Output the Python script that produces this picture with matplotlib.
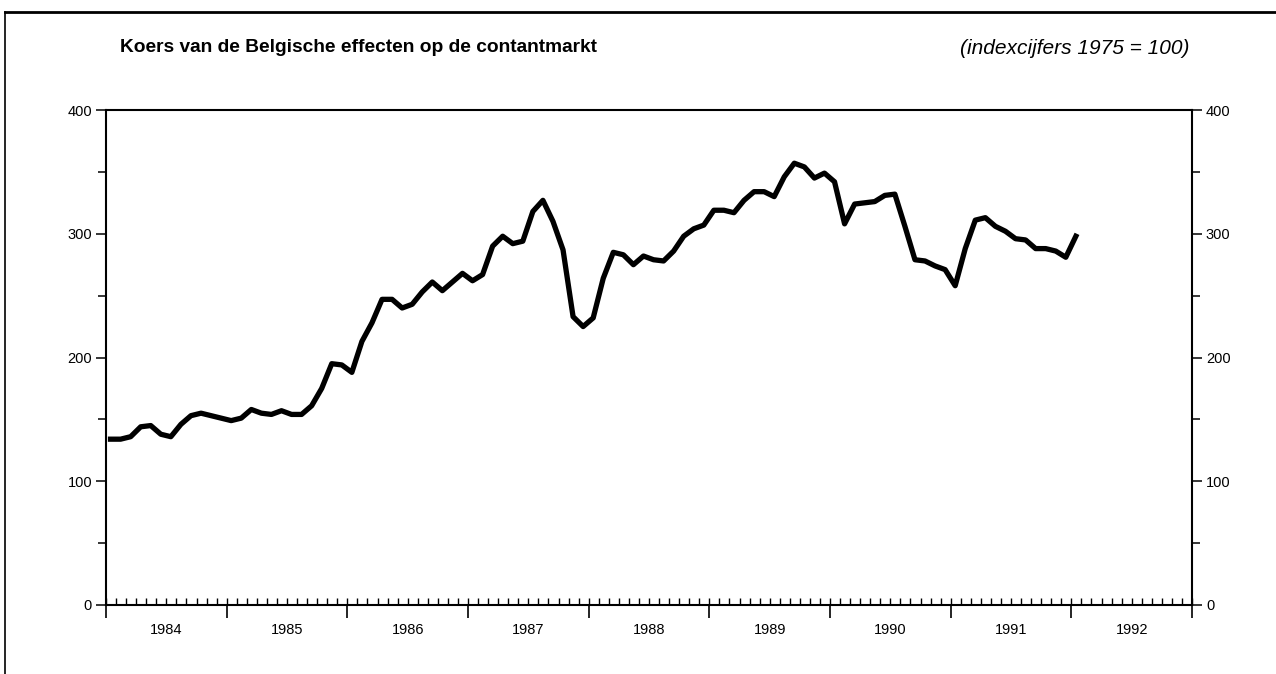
import numpy as np
import matplotlib
matplotlib.use('Agg')
import matplotlib.pyplot as plt
from matplotlib.lines import Line2D
from matplotlib.ticker import MultipleLocator

plt.rcParams['font.family'] = ['Liberation Sans', 'DejaVu Sans']

# jaarlabels onder de as
years = [1984, 1985, 1986, 1987, 1988, 1989, 1990, 1991, 1992]

koers_1984 = [134, 134, 136, 144, 145, 138, 136, 146, 153, 155, 153, 151]
koers_1985 = [149, 151, 158, 155, 154, 157, 154, 154, 161, 175, 195, 194]
koers_1986 = [188, 213, 228, 247, 247, 240, 243, 253, 261, 254, 261, 268]
koers_1987 = [262, 267, 290, 298, 292, 294, 318, 327, 310, 287, 233, 225]
koers_1988 = [232, 264, 285, 283, 275, 282, 279, 278, 286, 298, 304, 307]
koers_1989 = [319, 319, 317, 327, 334, 334, 330, 346, 357, 354, 345, 349]
koers_1990 = [342, 308, 324, 325, 326, 331, 332, 306, 279, 278, 274, 271]
koers_1991 = [258, 288, 311, 313, 306, 302, 296, 295, 288, 288, 286, 281]
koers_1992 = [298]

koers = (koers_1984 + koers_1985 + koers_1986 + koers_1987 + koers_1988
         + koers_1989 + koers_1990 + koers_1991 + koers_1992)
x = np.arange(len(koers)) + 0.45  # midden van de maand

W, H = 1276, 674
fig = plt.figure(figsize=(W / 100, H / 100), dpi=100)
ax = fig.add_axes([106 / W, 1 - 605 / H, (1192 - 106) / W, (605 - 110) / H])

ax.plot(x, koers, color='black', lw=3.8)

ax.set_xlim(0, 12 * len(years))
ax.set_ylim(0, 400)

# y-as links en rechts
ax.set_yticks([0, 100, 200, 300, 400])
ax.yaxis.set_minor_locator(MultipleLocator(50))
ax.tick_params(axis='y', which='both', direction='out', left=True, right=True,
               labelleft=True, labelright=True, labelsize=10.5, width=1.1)
ax.tick_params(axis='y', which='major', length=7, pad=3)
ax.tick_params(axis='y', which='minor', length=6)

# x-as: jaargrenzen naar buiten, maanden naar binnen
ax.set_xticks(np.arange(0, 12 * len(years) + 1, 12))
ax.set_xticklabels([])
ax.xaxis.set_minor_locator(MultipleLocator(1))
ax.xaxis.remove_overlapping_locs = False
ax.tick_params(axis='x', which='major', direction='out', length=9, width=1.2)
ax.tick_params(axis='x', which='minor', direction='in', length=5, width=1.0)
for k, yr in enumerate(years):
    ax.text(6 + 12 * k, -0.037, str(yr), transform=ax.get_xaxis_transform(),
            ha='center', va='top', fontsize=10.5)

for s in ax.spines.values():
    s.set_linewidth(1.5)

fig.text(120 / W, 1 - 48 / H, 'Koers van de Belgische effecten op de contantmarkt',
         fontsize=13.8, fontweight='bold', va='center', ha='left')
fig.text(1190 / W, 1 - 48 / H, '(indexcijfers 1975 = 100)',
         fontsize=15, style='italic', va='center', ha='right')

# kader van de pagina
fig.add_artist(Line2D([5 / W, 1], [1 - 12 / H, 1 - 12 / H], color='black', lw=2,
                      transform=fig.transFigure))
fig.add_artist(Line2D([5 / W, 5 / W], [0, 1 - 12 / H], color='black', lw=1.2,
                      transform=fig.transFigure))

fig.savefig('out.png', dpi=100)
